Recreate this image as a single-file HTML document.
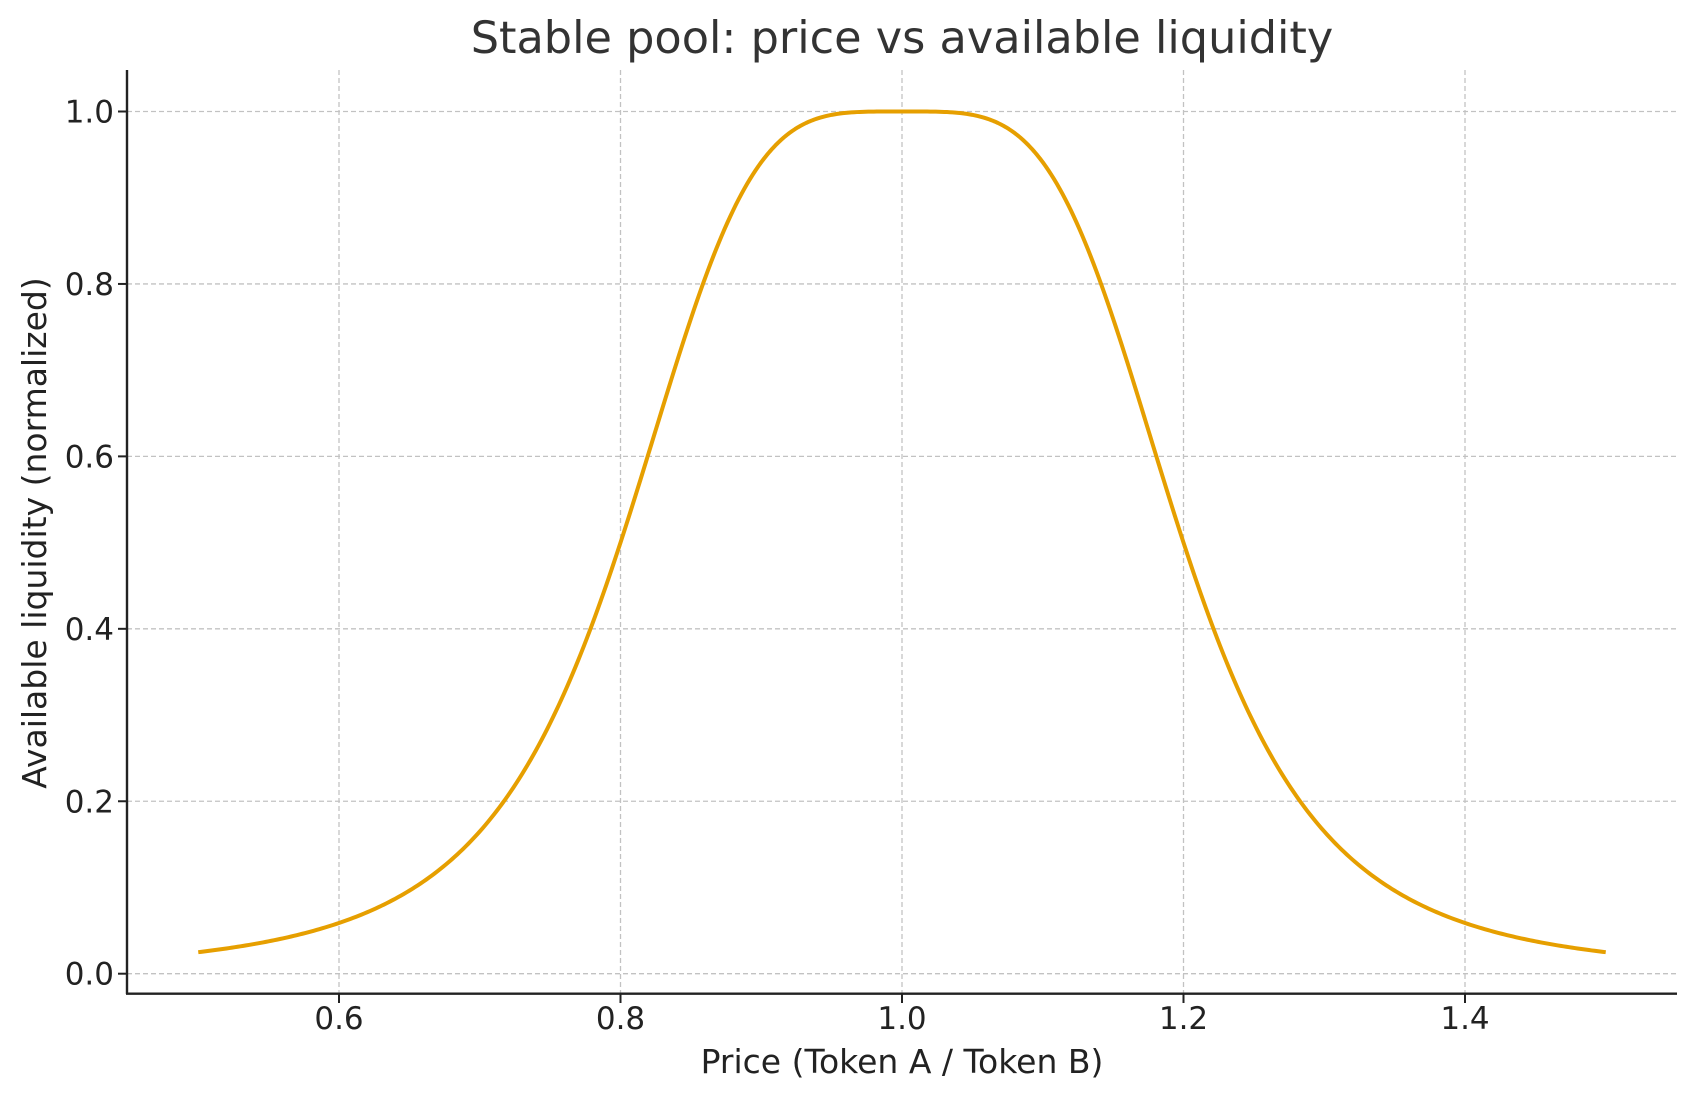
<!DOCTYPE html>
<html><head><meta charset="utf-8"><style>
html,body{margin:0;padding:0;background:#fff;}
svg text{font-family:"DejaVu Sans","Liberation Sans",sans-serif;}
</style></head><body>
<svg id="s" width="1697" height="1101" viewBox="0 0 1697 1101" xmlns="http://www.w3.org/2000/svg">
<rect width="1697" height="1101" fill="#fff"/>
<g id="grid" stroke="#c2c2c2" stroke-width="1.3" stroke-dasharray="5,3"></g>
<path id="curve" fill="none" stroke="#E69F00" stroke-width="4" stroke-linejoin="round" stroke-linecap="butt"/>
<g stroke="#222" stroke-width="2.4">
<line x1="127" y1="70" x2="127" y2="994"/>
<line x1="126" y1="993.7" x2="1677" y2="993.7"/>
</g>
<g id="ticks" stroke="#222" stroke-width="2"></g>
<g id="labels" font-size="31" fill="#222"></g>
<text x="902" y="53" font-size="44.6" fill="#333" text-anchor="middle">Stable pool: price vs available liquidity</text>
<text x="902" y="1073" font-size="33" fill="#222" text-anchor="middle">Price (Token A / Token B)</text>
<text transform="translate(46,533) rotate(-90)" font-size="33" fill="#222" text-anchor="middle">Available liquidity (normalized)</text>
</svg>
<script>
var X=function(v){return 339+(v-0.6)*1407.5;}, Y=function(v){return 973.7-v*862.2;};
var ns="http://www.w3.org/2000/svg";
function el(p,t,a,txt){var e=document.createElementNS(ns,t);for(var k in a)e.setAttribute(k,a[k]);if(txt)e.textContent=txt;document.getElementById(p).appendChild(e);}
[0.6,0.8,1.0,1.2,1.4].forEach(function(v){var x=X(v);
 el("grid","line",{x1:x,y1:70,x2:x,y2:993});
 el("ticks","line",{x1:x,y1:993.7,x2:x,y2:1003});
 el("labels","text",{x:x,y:1029,"text-anchor":"middle"},v.toFixed(1));});
[0,0.2,0.4,0.6,0.8,1.0].forEach(function(v){var y=Y(v);
 el("grid","line",{x1:127,y1:y,x2:1677,y2:y});
 el("ticks","line",{x1:127,y1:y,x2:118,y2:y});
 el("labels","text",{x:114,y:y+11,"text-anchor":"end"},v.toFixed(1));});
var d="";for(var i=0;i<=500;i++){var x=0.5+i/500;var u=(x-1)/0.2;var y=1/(1+u*u*u*u);
 d+=(i?"L":"M")+X(x).toFixed(2)+","+Y(y).toFixed(2);}
document.getElementById("curve").setAttribute("d",d);
</script>
</body></html>
